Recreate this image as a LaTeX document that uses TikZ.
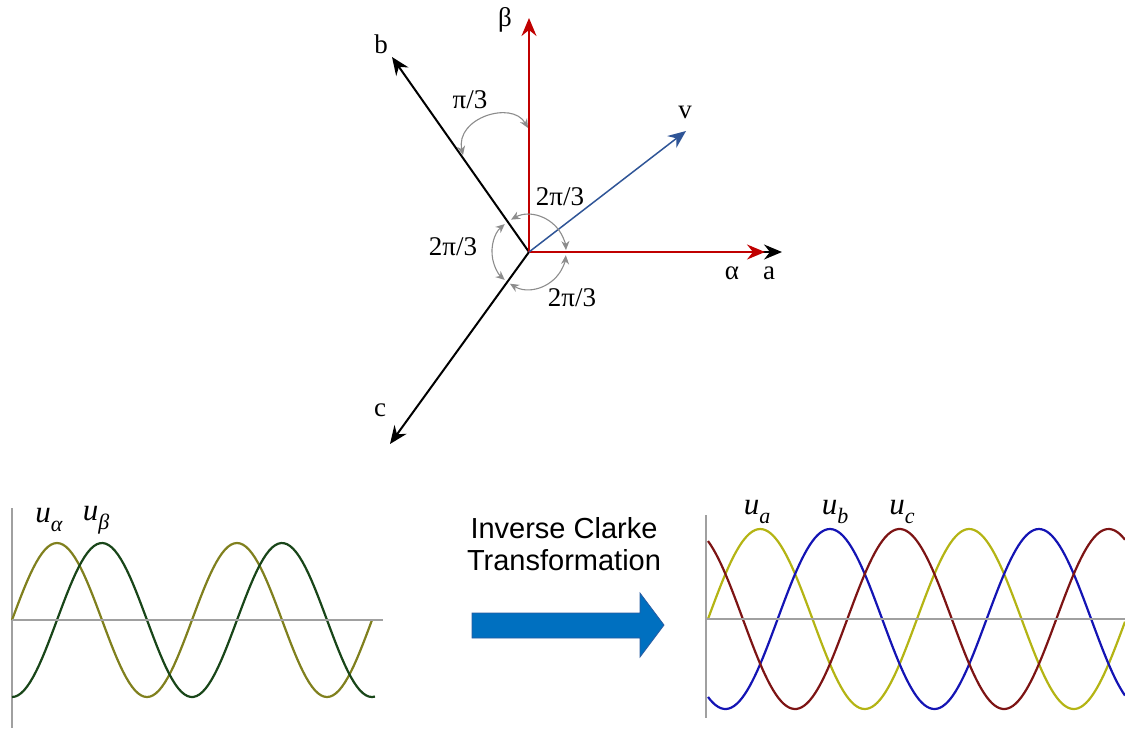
\documentclass[tikz,border=0pt]{standalone}
\usepackage{fontspec}
\setmainfont{Liberation Serif}
\newfontfamily\arialfont{Liberation Sans}
\usetikzlibrary{arrows.meta}
\definecolor{axisred}{RGB}{192,0,0}
\definecolor{vecblue}{RGB}{47,85,151}
\definecolor{arcgray}{RGB}{140,140,140}
\definecolor{plotgray}{RGB}{160,160,160}
\definecolor{alphaolive}{RGB}{128,128,30}
\definecolor{betagreen}{RGB}{25,70,25}
\definecolor{phaseA}{RGB}{180,180,20}
\definecolor{phaseB}{RGB}{20,20,180}
\definecolor{phaseC}{RGB}{125,20,20}
\definecolor{blockblue}{RGB}{0,112,192}
\definecolor{blockedge}{RGB}{40,90,160}
\newcommand{\wavelbl}[2]{\textit{#1}\raisebox{-0.28em}{\fontsize{22}{22}\selectfont\textit{#2}}}

\begin{document}
\begin{tikzpicture}[x=1pt,y=-1pt,axisvec/.style={line width=2pt,-{Stealth[length=18pt,width=15pt,inset=6pt]}},anglearc/.style={arcgray,line width=1.1pt,{Stealth[length=9pt,width=8pt]}-{Stealth[length=9pt,width=8pt]}},lbl/.style={font=\fontsize{27}{30}\selectfont,inner sep=0pt},wavetag/.style={font=\fontsize{31}{34}\selectfont,inner sep=0pt},wave/.style={line width=2.2pt},plotaxis/.style={plotgray,line width=2pt}]
\useasboundingbox (0,0) rectangle (1125,729);
\coordinate (O) at (529,252);
\coordinate (A) at (782,252);
\coordinate (Al) at (765,252);
\coordinate (Be) at (529,18);
\coordinate (B) at (392,57);
\coordinate (C) at (390,444);
\coordinate (V) at (686,131);
\draw[axisvec] (O) -- (A);
\draw[axisvec] (O) -- (B);
\draw[axisvec] (O) -- (C);
\draw[axisvec,axisred] (O) -- (Al);
\draw[axisvec,axisred] (O) -- (Be);
\draw[axisvec,vecblue,line width=1.5pt] (O) -- (V);
\coordinate (P1) at (463,155);
\coordinate (P2) at (528,128);
\draw[anglearc] (P1) .. controls (455,118) and (512,100) .. (P2);
\draw[anglearc] ([shift={(-119:37)}]O) arc[start angle=-119,end angle=-3,radius=37];
\draw[anglearc] ([shift={(-131:37)}]O) arc[start angle=-131,end angle=-229,radius=37];
\draw[anglearc] ([shift={(-239:37)}]O) arc[start angle=-239,end angle=-355,radius=37];
\node[lbl] (lbeta) at (505,20) {β};
\node[lbl] (lb) at (381,44) {b};
\node[lbl] (lc) at (380,410) {c};
\node[lbl] (lv) at (685,112) {v};
\node[lbl] (lalpha) at (732,273) {α};
\node[lbl] (la) at (769,273) {a};
\node[lbl] (lpi) at (470,100) {π/3};
\node[lbl] (lab) at (560,197) {2π/3};
\node[lbl] (lbc) at (453,247) {2π/3};
\node[lbl] (lca) at (572,298) {2π/3};
% alpha-beta waves
\draw[plotaxis] (12,508) -- (12,728);
\draw[wave,alphaolive] plot[domain=0:360,samples=121] ({12+\x},{620-77*sin(2*\x)});
\draw[wave,betagreen] plot[domain=0:363,samples=121] ({12+\x},{620+77*cos(2*\x)});
\draw[plotaxis] (12,620) -- (383,620);
\node[wavetag] (lua) at (49,520) {\wavelbl{u}{α}};
\node[wavetag] (lub) at (96,520) {\wavelbl{u}{β}};
% transformation arrow
\node[font=\arialfont\fontsize{29}{32}\selectfont,align=center,anchor=base,inner sep=0pt] (title) at (564,570) {Inverse Clarke\\Transformation};
\draw[blockedge,fill=blockblue,line width=0.8pt] (472,613) -- (640,613) -- (640,593) -- (664,625) -- (640,657) -- (640,638) -- (472,638) -- cycle;
% three-phase waves
\draw[plotaxis] (706,515) -- (706,718);
\draw[wave,phaseA] plot[domain=0:417,samples=161] ({708+\x},{619-90*sin(1.7225*\x)});
\draw[wave,phaseB] plot[domain=0:417,samples=161] ({708+\x},{619-90*sin(1.7225*\x-120)});
\draw[wave,phaseC] plot[domain=0:417,samples=161] ({708+\x},{619-90*sin(1.7225*\x+120)});
\draw[plotaxis] (706,619) -- (1125,619);
\node[wavetag] (lpa) at (757,512) {\wavelbl{u}{a}};
\node[wavetag] (lpb) at (835,512) {\wavelbl{u}{b}};
\node[wavetag] (lpc) at (902,512) {\wavelbl{u}{c}};
\end{tikzpicture}
\end{document}
